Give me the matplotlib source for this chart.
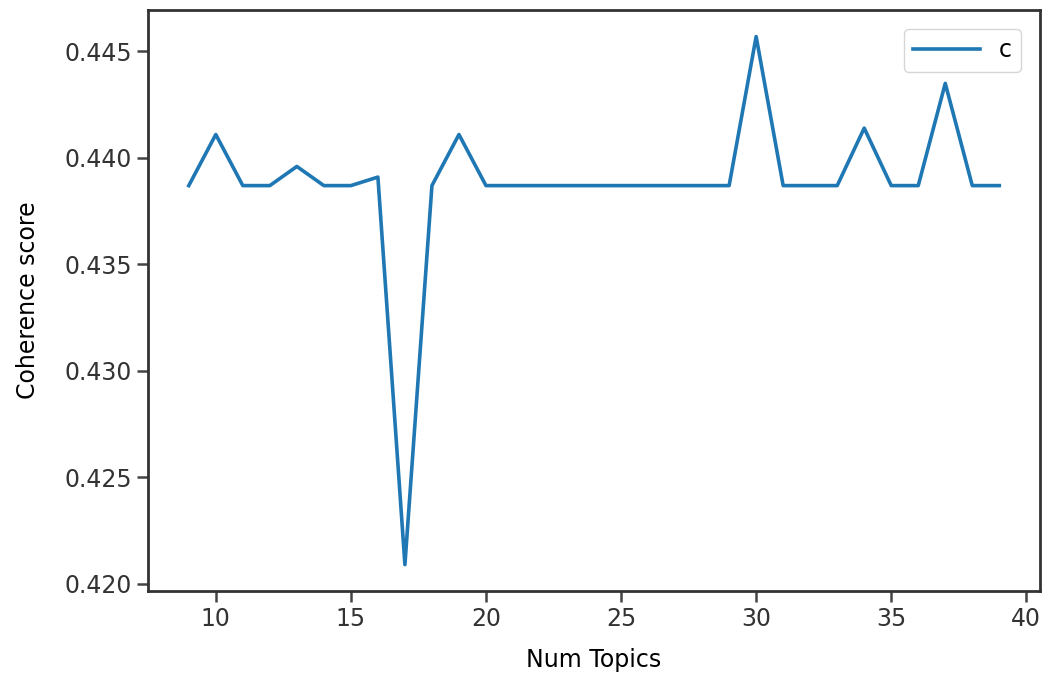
import matplotlib
matplotlib.use("Agg")
import matplotlib.pyplot as plt

num_topics = list(range(9, 40))
coherence = [
    0.4387, 0.4411, 0.4387, 0.4387, 0.4396, 0.4387, 0.4387, 0.4391,
    0.4209, 0.4387, 0.4411, 0.4387, 0.4387, 0.4387, 0.4387, 0.4387,
    0.4387, 0.4387, 0.4387, 0.4387, 0.4387, 0.4457, 0.4387, 0.4387,
    0.4387, 0.4414, 0.4387, 0.4387, 0.4435, 0.4387, 0.4387,
]

plt.rcParams['font.size'] = 17

fig = plt.figure(figsize=(10.44, 6.77), dpi=100)
ax = fig.add_axes([0.142, 0.127, 0.854, 0.858])
ax.plot(num_topics, coherence, color='#1f77b4', linewidth=2.6, label="c")
ax.set_xlabel("Num Topics", labelpad=12)
ax.set_ylabel("Coherence score", labelpad=18)
ax.set_yticks([0.420, 0.425, 0.430, 0.435, 0.440, 0.445])
ax.yaxis.set_major_formatter(matplotlib.ticker.FormatStrFormatter('%.3f'))
ax.tick_params(length=8, width=1.8, colors='#444444', labelcolor='#333333')
for s in ax.spines.values():
    s.set_linewidth(2)
    s.set_color('#333333')
ax.legend(loc='upper right', handlelength=2.8, borderaxespad=0.8)
fig.savefig("out.png", dpi=100)
